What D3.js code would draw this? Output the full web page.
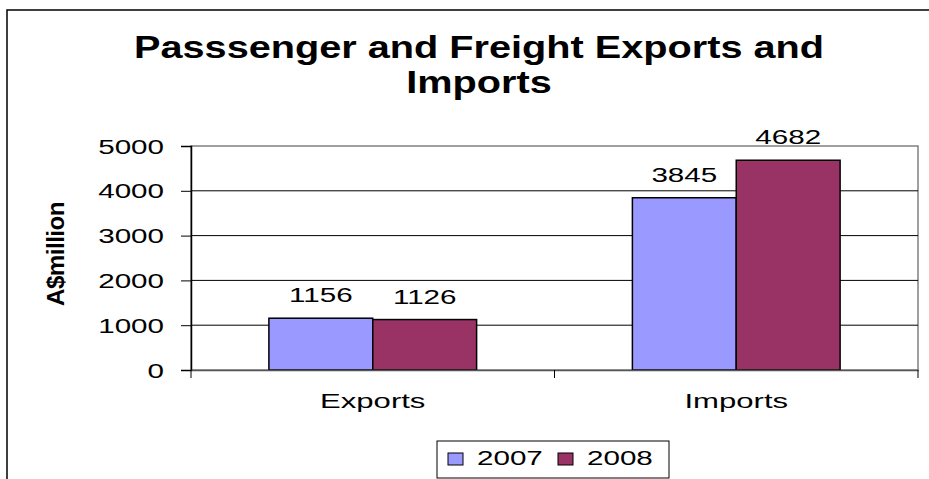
<!DOCTYPE html>
<html>
<head>
<meta charset="utf-8">
<script src="https://cdn.jsdelivr.net/npm/d3@7"></script>
<style>
  body { margin: 0; background: #fff; }
  text { font-family: "Liberation Sans", Arial, sans-serif; fill: #000; }
</style>
</head>
<body>
<script>
const width = 929;
const height = 479;

// chart data
const categories = ["Exports", "Imports"];
const series = ["2007", "2008"];
const values2007 = [1156, 3845];
const values2008 = [1126, 4682];
const yTicks = [0, 1000, 2000, 3000, 4000, 5000];
const colors = ["#9999FF", "#993366"];

const plot = { left: 191, right: 918, top: 146, bottom: 370 };
const sx = 1.48; // text in the picture is stretched sideways

const svg = d3.select("body").append("svg")
    .attr("width", width)
    .attr("height", height);

// outer chart frame
svg.append("rect")
    .attr("x", 7).attr("y", 10)
    .attr("width", 940).attr("height", 490)
    .attr("fill", "none")
    .attr("stroke", "#000")
    .attr("stroke-width", 1.5);

const x0 = d3.scaleBand().domain(categories).range([plot.left, plot.right]);
const x1 = d3.scaleBand().domain(series).range([0, x0.bandwidth()]).paddingOuter(0.75);
const y = d3.scaleLinear().domain([0, 5000]).range([plot.bottom, plot.top]);

// plot area border
svg.append("rect")
    .attr("x", plot.left).attr("y", plot.top)
    .attr("width", plot.right - plot.left).attr("height", plot.bottom - plot.top)
    .attr("fill", "none")
    .attr("stroke", "#808080")
    .attr("stroke-width", 1.5);

// gridlines
svg.selectAll("line.grid")
    .data(yTicks.slice(1, -1))
    .enter().append("line")
    .attr("class", "grid")
    .attr("x1", plot.left).attr("x2", plot.right)
    .attr("y1", d => y(d)).attr("y2", d => y(d))
    .attr("stroke", "#000")
    .attr("stroke-width", 1);

// bars
const rows = categories.map((c, i) => ({ cat: c, vals: [values2007[i], values2008[i]] }));
const groups = svg.selectAll("g.cat")
    .data(rows)
    .enter().append("g")
    .attr("transform", d => `translate(${x0(d.cat)},0)`);

groups.selectAll("rect")
    .data(d => d.vals.map((v, j) => ({ s: series[j], v: v, j: j })))
    .enter().append("rect")
    .attr("x", d => x1(d.s))
    .attr("y", d => y(d.v))
    .attr("width", x1.bandwidth())
    .attr("height", d => y(0) - y(d.v))
    .attr("fill", d => colors[d.j])
    .attr("stroke", "#000")
    .attr("stroke-width", 1.5);

groups.selectAll("text")
    .data(d => d.vals.map((v, j) => ({ s: series[j], v: v })))
    .enter().append("text")
    .attr("transform", d => `translate(${x1(d.s) + x1.bandwidth() / 2},${y(d.v) - 16}) scale(${sx},1)`)
    .attr("text-anchor", "middle")
    .style("font-size", "20px")
    .text(d => d.v);

// y axis
const yAxis = svg.append("g")
    .attr("transform", `translate(${plot.left},0)`)
    .call(d3.axisLeft(y).tickValues(yTicks).tickSize(10).tickFormat(d3.format("d")));
yAxis.select(".domain").attr("stroke", "#000").attr("stroke-width", 1.5);
yAxis.selectAll(".tick line").attr("stroke", "#000");
yAxis.selectAll(".tick text")
    .attr("x", null).attr("dy", "0.35em")
    .attr("transform", `translate(-27,0) scale(${sx},1)`)
    .style("font-size", "20px")
    .style("font-family", "'Liberation Sans', Arial, sans-serif")
    .attr("fill", "#000");

// x axis
const xAxis = svg.append("g")
    .attr("transform", `translate(0,${plot.bottom})`)
    .call(d3.axisBottom(x0).tickSize(0).tickPadding(0));
xAxis.select(".domain").attr("stroke", "#555").attr("stroke-width", 1.5);
xAxis.selectAll(".tick text")
    .attr("y", 0).attr("dy", null)
    .attr("transform", `translate(0,38) scale(${sx},1)`)
    .style("font-size", "21px")
    .style("font-family", "'Liberation Sans', Arial, sans-serif")
    .attr("fill", "#000");

// category boundary ticks
const bounds = categories.map(c => x0(c)).concat([plot.right]);
svg.selectAll("line.xtick")
    .data(bounds)
    .enter().append("line")
    .attr("x1", d => d).attr("x2", d => d)
    .attr("y1", plot.bottom).attr("y2", plot.bottom + 8)
    .attr("stroke", "#000");

// title
const titleLines = ["Passsenger and Freight Exports and", "Imports"];
svg.selectAll("text.title")
    .data(titleLines)
    .enter().append("text")
    .attr("class", "title")
    .attr("transform", (d, i) => `translate(479,${58 + i * 35}) scale(1.28,1)`)
    .attr("text-anchor", "middle")
    .style("font-size", "31px")
    .style("font-weight", "bold")
    .text(d => d);

// y axis title
svg.append("text")
    .attr("transform", "translate(64,254) rotate(-90) scale(1.1,1.05)")
    .attr("text-anchor", "middle")
    .style("font-size", "22px")
    .style("font-weight", "bold")
    .style("letter-spacing", "-0.5px")
    .text("A$million");

// legend
const legend = svg.append("g");
legend.append("rect")
    .attr("x", 437).attr("y", 441)
    .attr("width", 232).attr("height", 37)
    .attr("fill", "#fff")
    .attr("stroke", "#000");

const legendX = d3.scaleOrdinal().domain(series).range([448, 558]);
const items = legend.selectAll("g.item")
    .data(series)
    .enter().append("g")
    .attr("transform", d => `translate(${legendX(d)},0)`);
items.append("rect")
    .attr("x", 0).attr("y", 453)
    .attr("width", 15).attr("height", 12)
    .attr("fill", (d, i) => colors[i])
    .attr("stroke", "#000");
items.append("text")
    .attr("transform", `translate(29,465) scale(${sx},1)`)
    .style("font-size", "20px")
    .text(d => d);
</script>
</body>
</html>
